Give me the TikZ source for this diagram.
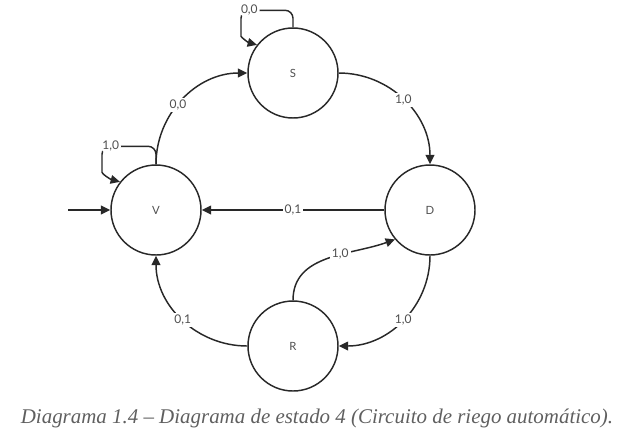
\documentclass[tikz,border=0pt]{standalone}
\usepackage{fontspec}
\setmainfont{Liberation Serif}
\newfontfamily\lato{Lato}
\usetikzlibrary{arrows.meta}
\definecolor{linegray}{RGB}{40,40,40}
\definecolor{textgray}{RGB}{80,80,80}
\definecolor{captiongray}{RGB}{95,95,95}

\begin{document}
\begin{tikzpicture}[x=0.75pt,y=0.75pt,
  state/.style={circle,draw=linegray,line width=1.1pt,minimum size=67.5pt,inner sep=0pt,font=\lato\fontsize{8.5}{10}\selectfont,text=textgray},
  edge/.style={draw=linegray,line width=1.1pt,-{Triangle[length=7pt,width=6.5pt]}},
  lbl/.style={fill=white,inner sep=1.5pt,font=\lato\fontsize{9}{10}\selectfont,text=textgray}]
\useasboundingbox (0,0) rectangle (623,-433);

%States
\node[state] (S) at (293,-73) {S};
\node[state] (V) at (156,-210) {V};
\node[state] (D) at (430,-210) {D};
\node[state] (R) at (293,-346) {R};
\coordinate (start) at (68,-210);

%Transitions
\draw[edge] (start) -- (V.west);
\draw[edge,rounded corners=6pt] (V.north) -- ++(0,18) -| node[lbl,pos=0.42]{1,0} ++(-54,-18) to[out=270,in=165] (V.142);
\draw[edge,rounded corners=6pt] (S.north) -- ++(0,17) -| node[lbl,pos=0.42]{0,0} ++(-52,-18) to[out=270,in=165] (S.142);
\draw[edge] (V.north) to[out=90,in=180] node[lbl,pos=0.45]{0,0} (S.west);
\draw[edge] (S.east) to[out=0,in=90] node[lbl,pos=0.5]{1,0} (D.north);
\draw[edge] (D.west) -- node[lbl]{0,1} (V.east);
\draw[edge] (R.north) to[out=90,in=200] node[lbl,pos=0.6]{1,0} (D.220);
\draw[edge] (D.south) to[out=270,in=0] node[lbl,pos=0.5]{1,0} (R.east);
\draw[edge] (R.west) to[out=180,in=270] node[lbl,pos=0.5]{0,1} (V.south);

% Text Node
\node[font=\itshape\fontsize{15.7}{18}\selectfont,text=captiongray] (caption) at (317,-418) {Diagrama 1.4 -- Diagrama de estado 4 (Circuito de riego automático).};
\end{tikzpicture}
\end{document}
